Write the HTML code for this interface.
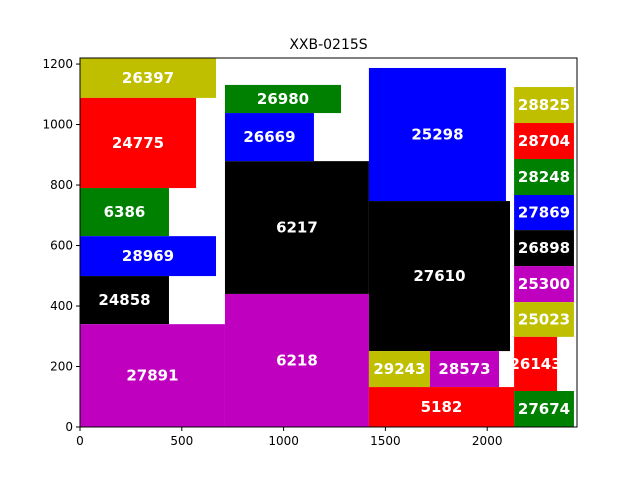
<!DOCTYPE html>
<html><head><meta charset="utf-8"><style>
body{margin:0;background:#fff;}
svg{display:block;font-family:"DejaVu Sans","Liberation Sans",sans-serif;}
</style></head><body>
<svg id="chart" width="640" height="480"></svg>
<script>
const labels=["26397","24775","6386","28969","24858","27891","6218","6217","26669","26980","25298","27610","29243","28573","5182","28825","28704","28248","27869","26898","25300","25023","26143","27674"];
const x0s=[0,0,0,0,0,0,712,712,712,712,1419,1419,1419,1719,1419,2132,2132,2132,2132,2132,2132,2132,2132,2132];
const x1s=[668,570,437,668,437,712,1419,1419,1149,1282,2092,2112,1719,2058,2132,2426,2426,2426,2426,2426,2426,2426,2343,2426];
const y0s=[1088,790,631,499,340,0,0,440,879,1038,747,251,132,132,0,1005,886,767,651,532,413,298,119,0];
const y1s=[1220,1088,790,631,499,340,440,879,1038,1131,1187,747,251,251,132,1124,1005,886,767,651,532,413,298,119];
const colors=["#bfbf00","#ff0000","#008000","#0000ff","#000000","#bf00bf","#bf00bf","#000000","#0000ff","#008000","#0000ff","#000000","#bfbf00","#bf00bf","#ff0000","#bfbf00","#ff0000","#008000","#0000ff","#000000","#bf00bf","#bfbf00","#ff0000","#008000"];
const xTicks=[0,500,1000,1500,2000];
const yTicks=[0,200,400,600,800,1000,1200];
const L=80,R=577,T=58,B=427,XMAX=2441,YMAX=1220;
const sx=v=>L+v/XMAX*(R-L), sy=v=>B-v/YMAX*(B-T);
const svg=document.getElementById('chart');
const NS='http://www.w3.org/2000/svg';
function mk(t,a){const e=document.createElementNS(NS,t);for(const k in a)e.setAttribute(k,a[k]);svg.appendChild(e);return e;}
const clip=document.createElementNS(NS,'clipPath');clip.setAttribute('id','cp');
const cr=document.createElementNS(NS,'rect');cr.setAttribute('x',L);cr.setAttribute('y',T);cr.setAttribute('width',R-L);cr.setAttribute('height',B-T);clip.appendChild(cr);svg.appendChild(clip);
for(let i=0;i<labels.length;i++){
  const r=mk('rect',{x:sx(x0s[i]),y:sy(y1s[i]),width:sx(x1s[i])-sx(x0s[i]),height:sy(y0s[i])-sy(y1s[i]),fill:colors[i]});
  
  
}
for(let i=0;i<labels.length;i++){
  const t=mk('text',{x:(sx(x0s[i])+sx(x1s[i]))/2,y:(sy(y0s[i])+sy(y1s[i]))/2+5,'text-anchor':'middle','font-size':'15','font-weight':'bold',fill:'#fff','clip-path':'url(#cp)'});
  t.textContent=labels[i];
  
  
}
const f=mk('rect',{x:L,y:T,width:R-L,height:B-T,fill:'none',stroke:'#000','stroke-width':1});


xTicks.forEach(v=>{
  mk('line',{x1:sx(v),x2:sx(v),y1:B,y2:B+4,stroke:'#000'});
  const t=mk('text',{x:sx(v),y:B+18,'text-anchor':'middle','font-size':'12'});t.textContent=v;
  
  
});
yTicks.forEach(v=>{
  mk('line',{x1:L-4,x2:L,y1:sy(v),y2:sy(v),stroke:'#000'});
  const t=mk('text',{x:L-7,y:sy(v)+4,'text-anchor':'end','font-size':'12'});t.textContent=v;
  
  
});
const ti=mk('text',{x:(L+R)/2,y:49,'text-anchor':'middle','font-size':'14'});ti.textContent='XXB-0215S';


</script>
</body></html>
